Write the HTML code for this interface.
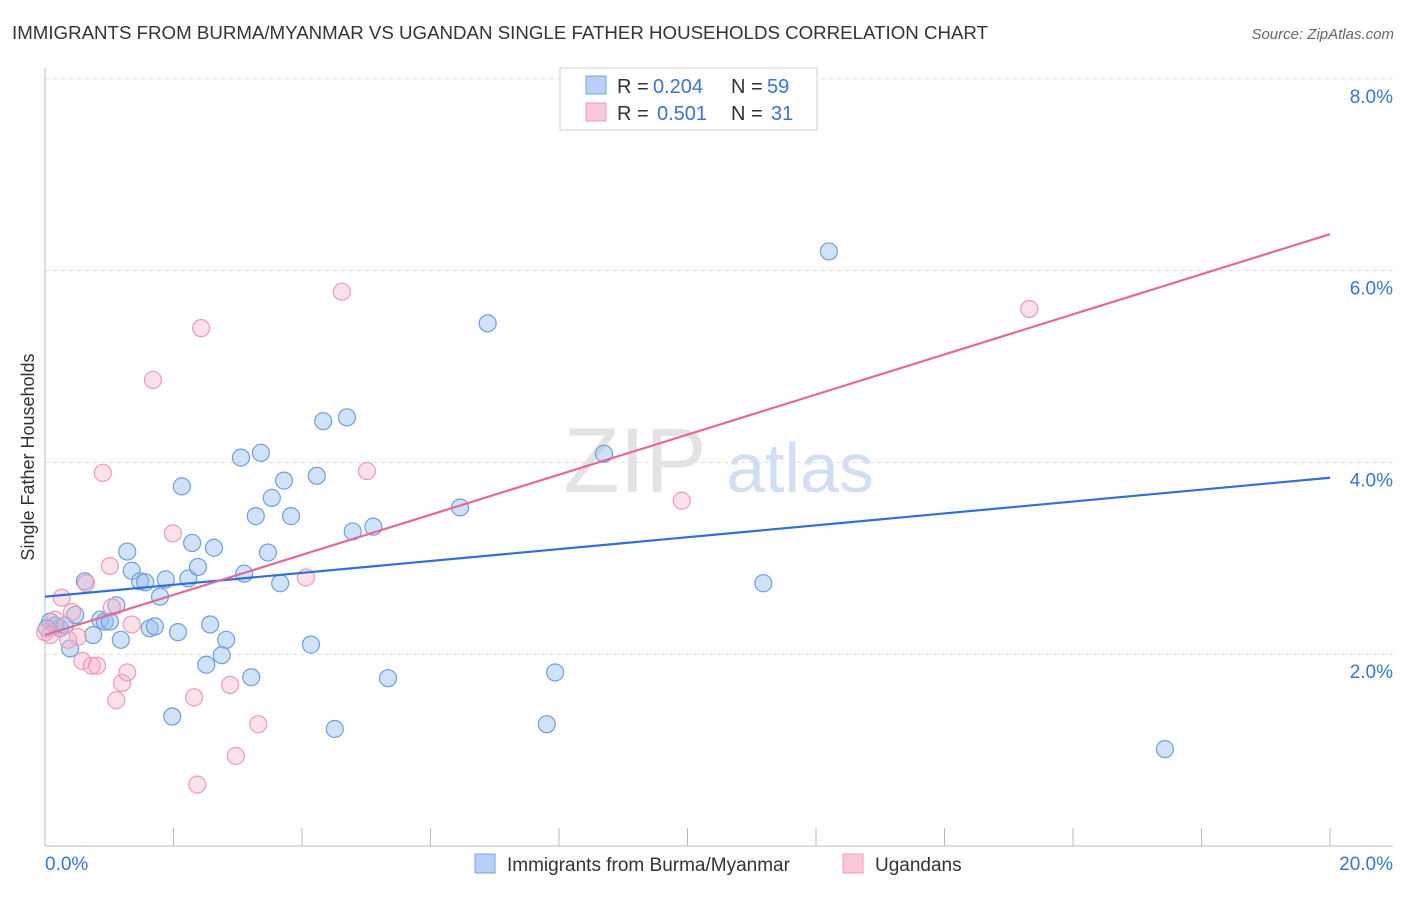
<!DOCTYPE html>
<html><head><meta charset="utf-8"><style>
body{margin:0;background:#fff;font-family:"Liberation Sans",sans-serif;}
svg text{font-family:"Liberation Sans",sans-serif;}
</style></head><body>
<svg width="1406" height="892" xmlns="http://www.w3.org/2000/svg">
<text x="12" y="39" font-size="18" fill="#333" textLength="976" lengthAdjust="spacingAndGlyphs">IMMIGRANTS FROM BURMA/MYANMAR VS UGANDAN SINGLE FATHER HOUSEHOLDS CORRELATION CHART</text>
<text x="1394" y="39" font-size="15" fill="#666" font-style="italic" text-anchor="end">Source: ZipAtlas.com</text>
<g>
<text x="635" y="492" font-size="92" fill="#ddd" font-family="Liberation Serif" text-anchor="middle" opacity="0.8">ZIP</text>
<text x="800" y="492" font-size="70" fill="#c8d8ef" text-anchor="middle" opacity="0.8">atlas</text>
</g>
<g id="grid"></g>
<g id="axes"></g>
<g id="marks"></g>
<g>
<rect x="560" y="68" width="257" height="62" fill="#fff" stroke="#ccc"/>
<rect x="586" y="76" width="20" height="18" fill="#b8d0f5" stroke="#7aa3e0"/>
<rect x="586" y="103" width="20" height="18" fill="#fac8d8" stroke="#ef9bb6"/>
<text x="617" y="93" font-size="20" fill="#333">R =</text>
<text x="653" y="93" font-size="20" fill="#3a74d0">0.204</text>
<text x="731" y="93" font-size="20" fill="#333">N =</text>
<text x="767" y="93" font-size="20" fill="#3a74d0">59</text>
<text x="617" y="120" font-size="20" fill="#333">R =</text>
<text x="657" y="120" font-size="20" fill="#3a74d0">0.501</text>
<text x="731" y="120" font-size="20" fill="#333">N =</text>
<text x="771" y="120" font-size="20" fill="#3a74d0">31</text>
</g>
<g>
<rect x="475" y="854" width="20" height="19" fill="#b8d0f5" stroke="#7aa3e0"/>
<text x="507" y="871" font-size="19" fill="#333">Immigrants from Burma/Myanmar</text>
<rect x="843" y="854" width="20" height="19" fill="#fac8d8" stroke="#ef9bb6"/>
<text x="875" y="871" font-size="19" fill="#333">Ugandans</text>
</g>
<text transform="translate(34,457) rotate(-90)" font-size="18" fill="#333" text-anchor="middle">Single Father Households</text>
</svg>
<script>
const blueX=[0.08,0.16,0.23,0.31,0.39,0.47,0.62,0.75,0.86,0.93,1.01,1.11,1.18,1.28,1.35,1.48,1.56,1.63,1.71,1.79,1.88,1.98,2.07,2.13,2.23,2.29,2.38,2.51,2.57,2.63,2.75,2.82,3.05,3.10,3.21,3.28,3.36,3.47,3.53,3.66,3.72,3.83,4.14,4.23,4.33,4.51,4.70,4.79,5.11,5.34,6.46,6.89,7.81,7.94,8.70,11.18,12.20,17.43,0.03];
const blueY=[2.34,2.30,2.27,2.30,2.06,2.41,2.76,2.20,2.36,2.34,2.34,2.51,2.15,3.07,2.87,2.76,2.75,2.27,2.29,2.60,2.78,1.35,2.23,3.75,2.79,3.16,2.91,1.89,2.31,3.11,1.99,2.15,4.05,2.84,1.76,3.44,4.10,3.06,3.63,2.74,3.81,3.44,2.10,3.86,4.43,1.22,4.47,3.28,3.33,1.75,3.53,5.45,1.27,1.81,4.09,2.74,6.20,1.01,2.27];
const pinkX=[0.0,0.08,0.26,0.42,0.51,0.58,0.64,0.73,0.81,0.90,1.01,1.04,1.11,1.20,1.28,1.35,1.68,1.99,2.32,2.37,2.43,2.88,2.97,3.32,4.06,4.62,5.01,9.91,15.32,0.16,0.36];
const pinkY=[2.23,2.20,2.59,2.44,2.18,1.93,2.74,1.88,1.88,3.89,2.92,2.49,1.52,1.70,1.81,2.31,4.86,3.26,1.55,0.64,5.40,1.68,0.94,1.27,2.80,5.78,3.91,3.60,5.60,2.36,2.15];
const blueTrend=[2.60,3.84];
const pinkTrend=[2.20,6.38];
const yTicks=[2,4,6,8];
const yTickLabels=["2.0%","4.0%","6.0%","8.0%"];
const xTickLabels=["0.0%","20.0%"];
const NS="http://www.w3.org/2000/svg";
const sx=v=>45+v*64.25, sy=v=>846-v*95.9;
function mk(t,a,p){const e=document.createElementNS(NS,t);for(const k in a)e.setAttribute(k,a[k]);p.appendChild(e);return e;}
const grid=document.getElementById('grid'),axes=document.getElementById('axes'),marks=document.getElementById('marks');
yTicks.forEach((v,i)=>{
 const l=mk('line',{x1:45,x2:1393,y1:sy(v),y2:sy(v),stroke:'#ddd','stroke-dasharray':'4,4'},grid);
 
 
 const t=mk('text',{x:1393,y:sy(v)+24,'font-size':19,fill:'#3a74d0','text-anchor':'end'},axes);
 t.textContent=yTickLabels[i];
 
 
});
let a=mk('line',{x1:45,x2:45,y1:68,y2:846,stroke:'#bbb'},axes);


a=mk('line',{x1:45,x2:1393,y1:846,y2:846,stroke:'#bbb'},axes);


for(let i=1;i<=10;i++){const x=sx(i*2);const tk=mk('line',{x1:x,x2:x,y1:828,y2:846,stroke:'#bbb'},axes);
 
 }
let t=mk('text',{x:45,y:870,'font-size':19,fill:'#3a74d0'},axes);t.textContent=xTickLabels[0];


t=mk('text',{x:1393,y:870,'font-size':19,fill:'#3a74d0','text-anchor':'end'},axes);t.textContent=xTickLabels[1];


blueX.forEach((x,i)=>{const c=mk('circle',{cx:sx(x),cy:sy(blueY[i]),r:8.5,fill:'rgba(150,190,240,0.45)',stroke:'#6f9ee0','stroke-width':1.2},marks);
 
 });
pinkX.forEach((x,i)=>{const c=mk('circle',{cx:sx(x),cy:sy(pinkY[i]),r:8.5,fill:'rgba(248,180,200,0.4)',stroke:'#ef9bb6','stroke-width':1.2},marks);
 
 });
let tl=mk('line',{x1:sx(0),y1:sy(blueTrend[0]),x2:sx(20),y2:sy(blueTrend[1]),stroke:'#2f6fd6','stroke-width':2.2},marks);


tl=mk('line',{x1:sx(0),y1:sy(pinkTrend[0]),x2:sx(20),y2:sy(pinkTrend[1]),stroke:'#e46a93','stroke-width':2.2},marks);


</script>
</body></html>
